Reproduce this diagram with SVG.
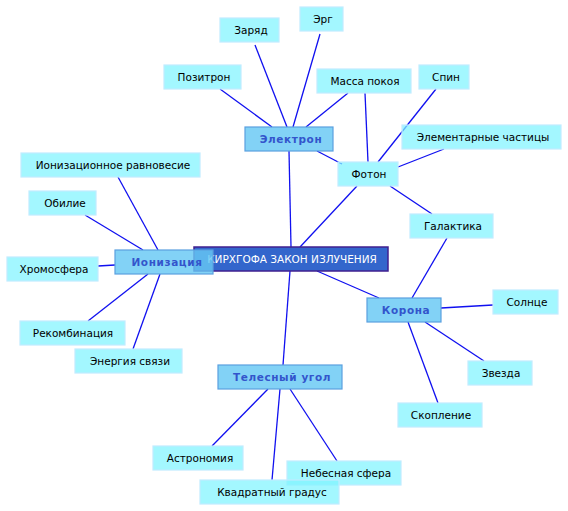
<svg xmlns="http://www.w3.org/2000/svg" width="568" height="511" viewBox="0 0 568 511">
<style>
.c line{stroke:#1010f0;stroke-width:1.3}
.leaf rect{fill:#80f4ff;fill-opacity:0.72;stroke:#c0ecff;stroke-width:1.2}
.leaf text{font-family:"DejaVu Sans",sans-serif;font-size:10.5px;fill:#000;text-anchor:middle}
.mid rect{fill:#66c8f4;fill-opacity:0.82;stroke:#5aa0e0;stroke-width:1.2}
.mid text{font-family:"DejaVu Sans",sans-serif;font-size:10.5px;font-weight:bold;fill:#3355cc;text-anchor:middle;letter-spacing:0.6px}
.root rect{fill:#3366cc;stroke:#402090;stroke-width:1.5}
.root text{font-family:"DejaVu Sans",sans-serif;font-size:10.5px;fill:#fff;text-anchor:middle}
</style>
<rect width="568" height="511" fill="#fff"/>
<g id="connectors" class="c">
<line x1="220" y1="89" x2="272" y2="127"/>
<line x1="255" y1="45" x2="287" y2="127"/>
<line x1="320" y1="34" x2="293" y2="127"/>
<line x1="348" y1="93" x2="306" y2="127"/>
<line x1="365" y1="93" x2="368" y2="162"/>
<line x1="436" y1="89" x2="378" y2="162"/>
<line x1="444" y1="149" x2="398" y2="167"/>
<line x1="317" y1="151" x2="342" y2="164"/>
<line x1="357" y1="186" x2="300" y2="247"/>
<line x1="390" y1="186" x2="432" y2="214"/>
<line x1="289" y1="151" x2="291" y2="247"/>
<line x1="317" y1="271" x2="379" y2="298"/>
<line x1="447" y1="238" x2="412" y2="298"/>
<line x1="441" y1="308" x2="493" y2="305"/>
<line x1="425" y1="322" x2="484" y2="361"/>
<line x1="408" y1="322" x2="438" y2="403"/>
<line x1="290" y1="271" x2="283" y2="365"/>
<line x1="268" y1="389" x2="212" y2="446"/>
<line x1="280" y1="389" x2="272" y2="480"/>
<line x1="290" y1="389" x2="337" y2="461"/>
<line x1="118" y1="177" x2="158" y2="250"/>
<line x1="85" y1="215" x2="143" y2="250"/>
<line x1="98" y1="266" x2="115" y2="265"/>
<line x1="148" y1="274" x2="88" y2="321"/>
<line x1="160" y1="274" x2="133" y2="349"/>
</g>
<g id="root" class="root"><rect x="194" y="247" width="194" height="24"/><text x="292" y="263">КИРХГОФА ЗАКОН ИЗЛУЧЕНИЯ</text></g>
<g id="ionization" class="mid"><rect x="115" y="250" width="98" height="24"/><text x="167" y="266">Ионизация</text></g>
<g id="electron" class="mid"><rect x="245" y="127" width="88" height="24"/><text x="291" y="143">Электрон</text></g>
<g id="corona" class="mid"><rect x="367" y="298" width="74" height="24"/><text x="406" y="314">Корона</text></g>
<g id="solidangle" class="mid"><rect x="218" y="365" width="124" height="24"/><text x="282" y="381">Телесный угол</text></g>
<g id="photon" class="leaf"><rect x="338" y="162" width="60" height="24"/><text x="369" y="178">Фотон</text></g>
<g id="charge" class="leaf"><rect x="220" y="18" width="59" height="24"/><text x="251" y="34">Заряд</text></g>
<g id="erg" class="leaf"><rect x="300" y="7" width="43" height="24"/><text x="323" y="23">Эрг</text></g>
<g id="positron" class="leaf"><rect x="164" y="65" width="77" height="24"/><text x="204" y="81">Позитрон</text></g>
<g id="restmass" class="leaf"><rect x="317" y="69" width="94" height="24"/><text x="365" y="85">Масса покоя</text></g>
<g id="spin" class="leaf"><rect x="419" y="65" width="50" height="24"/><text x="446" y="81">Спин</text></g>
<g id="elementary" class="leaf"><rect x="402" y="125" width="159" height="24"/><text x="483" y="141">Элементарные частицы</text></g>
<g id="ioneq" class="leaf"><rect x="21" y="153" width="179" height="24"/><text x="113" y="169">Ионизационное равновесие</text></g>
<g id="abundance" class="leaf"><rect x="29" y="191" width="67" height="24"/><text x="65" y="207">Обилие</text></g>
<g id="chromosphere" class="leaf"><rect x="7" y="257" width="91" height="24"/><text x="54" y="273">Хромосфера</text></g>
<g id="recombination" class="leaf"><rect x="20" y="321" width="105" height="24"/><text x="73" y="337">Рекомбинация</text></g>
<g id="binding" class="leaf"><rect x="75" y="349" width="107" height="24"/><text x="130" y="365">Энергия связи</text></g>
<g id="galaxy" class="leaf"><rect x="410" y="214" width="83" height="24"/><text x="453" y="230">Галактика</text></g>
<g id="sun" class="leaf"><rect x="493" y="290" width="65" height="24"/><text x="527" y="306">Солнце</text></g>
<g id="star" class="leaf"><rect x="468" y="361" width="64" height="24"/><text x="501" y="377">Звезда</text></g>
<g id="cluster" class="leaf"><rect x="398" y="403" width="84" height="24"/><text x="441" y="419">Скопление</text></g>
<g id="astronomy" class="leaf"><rect x="153" y="446" width="90" height="24"/><text x="200" y="462">Астрономия</text></g>
<g id="celestial" class="leaf"><rect x="287" y="461" width="114" height="24"/><text x="346" y="477">Небесная сфера</text></g>
<g id="sqdegree" class="leaf"><rect x="200" y="480" width="139" height="24"/><text x="272" y="496">Квадратный градус</text></g>
</svg>
